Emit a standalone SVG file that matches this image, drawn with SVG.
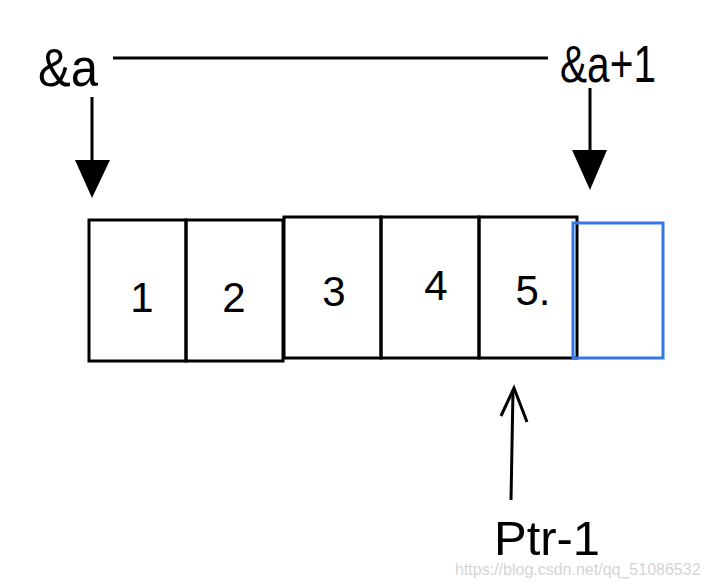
<svg xmlns="http://www.w3.org/2000/svg" width="708" height="586" viewBox="0 0 708 586">
<style>
.cell{fill:none;stroke:#000;stroke-width:3}
.blue{fill:none;stroke:#3478e8;stroke-width:3}
.lbl{font-family:"Liberation Sans",Arial,sans-serif;fill:#000}
.dig{font-family:"Liberation Sans",Arial,sans-serif;font-size:42px;fill:#000;text-anchor:middle}
.ln{stroke:#000;stroke-width:3;fill:none}
.wm{font-family:"Liberation Sans",Arial,sans-serif;font-size:16px;fill:#d4d4d4}
</style>
<rect width="708" height="586" fill="#fff"/>
<g id="label-a"><text class="lbl" x="38" y="86" font-size="54" textLength="60" lengthAdjust="spacingAndGlyphs">&amp;a</text></g>
<g id="label-a1"><text class="lbl" x="560" y="82" font-size="52" textLength="96" lengthAdjust="spacingAndGlyphs">&amp;a+1</text></g>
<g id="cell1"><rect class="cell" x="89" y="220" width="97" height="141"/><text class="dig" x="142" y="312">1</text></g>
<g id="cell2"><rect class="cell" x="186" y="220" width="97" height="141"/><text class="dig" x="234" y="312">2</text></g>
<g id="cell3"><rect class="cell" x="284" y="217" width="97" height="141"/><text class="dig" x="334" y="306">3</text></g>
<g id="cell4"><rect class="cell" x="381" y="217" width="98" height="141"/><text class="dig" x="436" y="300">4</text></g>
<g id="cell5"><rect class="cell" x="479" y="217" width="98" height="141"/><text class="dig" x="533" y="305">5.</text></g>
<g id="cell6"><rect class="blue" x="573" y="223" width="90" height="135"/></g>
<g id="label-ptr"><text class="lbl" x="494" y="555" font-size="48" textLength="106" lengthAdjust="spacingAndGlyphs">Ptr-1</text></g>
<g id="connectors">
<line class="ln" x1="113" y1="58" x2="548" y2="58"/>
<line class="ln" x1="92" y1="97" x2="92" y2="162"/>
<polygon points="75,160 110,160 92,198" fill="#000"/>
<line class="ln" x1="590" y1="88" x2="590" y2="152"/>
<polygon points="572,150 607,150 590,190" fill="#000"/>
<line class="ln" x1="513" y1="390" x2="511" y2="500"/>
<polyline class="ln" points="501,416 514,388 527,422"/>
</g>
<text class="wm" x="455" y="575">https://blog.csdn.net/qq_51086532</text>
</svg>
